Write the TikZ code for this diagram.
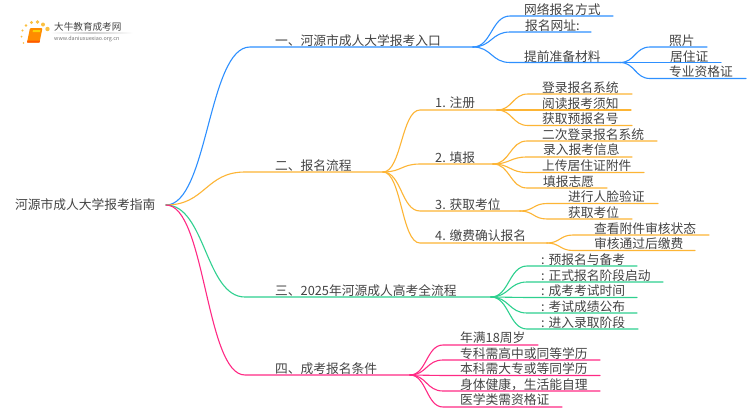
\documentclass[tikz,border=0pt]{standalone}
\usepackage{fontspec}
\setmainfont{Noto Sans CJK SC}
\usetikzlibrary{calc}
\definecolor{cblue}{HTML}{2E90FF}
\definecolor{corange}{HTML}{FDB535}
\definecolor{cgreen}{HTML}{2ED08F}
\definecolor{cpink}{HTML}{FF2A85}
\definecolor{ctext}{HTML}{444444}
\definecolor{cdot}{HTML}{FBC040}
\tikzset{
  lbl/.style={anchor=base west,inner sep=0pt,yshift=-4.7pt,text=ctext,font=\fontsize{12.75}{13}\selectfont},
  conn/.style={line width=1.1pt,line cap=round},
  dotc/.style={circle,fill=cdot,inner sep=0pt,draw=none,minimum size=#1}
}
% \itmb{from}{name}{xs}{xe}{y}{textx}{texty}{text}{colour}
\newcommand{\itmb}[9]{%
  \node[lbl] (t#2) at (#6,#7) {#8};
  \coordinate (s#2) at (#3,#5);
  \coordinate (#2) at (#4,#5);
  \path let \p1=(#1), \p2=(s#2), \n1={0.5*\x1+0.5*\x2} in
    coordinate (ca#2) at (\n1,\y1) coordinate (cb#2) at (\n1,\y2);
  \draw[conn,#9] (#1) .. controls (ca#2) and (cb#2) .. (s#2) -- (#2);
}
\begin{document}
\begin{tikzpicture}[x=1pt,y=-1pt]
\useasboundingbox (0,0) rectangle (750,410);
\fill[white] (0,0) rectangle (750,410);
% logo
\shade[left color=white,right color=white,middle color=black!20,draw=none] (50,32.6) rectangle (133,33.4);
\node[dotc=1.8pt] (d0) at (23.5,43) {};
\node[dotc=2pt] (d1) at (21.5,36.5) {};
\node[dotc=2.4pt] (d2) at (22.5,30.5) {};
\node[dotc=2.8pt] (d3) at (26,25.5) {};
\node[dotc=3.4pt] (d4) at (31.5,22.5) {};
\node[dotc=3.8pt] (d5) at (37.5,22) {};
\node[dotc=4pt] (d6) at (43,24.5) {};
\node[dotc=4.4pt] (d7) at (47.5,29) {};
\fill[orange!90!yellow,rounded corners=1pt] (30,28) -- (42.5,28) -- (39.5,42.5) -- (27,42.5) -- cycle;
\fill[orange!70!red] (27,42.5) -- (39.5,42.5) -- (40,40.5) -- (27.5,40.5) -- cycle;
\fill[yellow!70!orange] (33,30) -- (40.5,30) -- (40,32.2) -- (32.6,32.2) -- cycle;
\node[anchor=west,inner sep=0pt,text=ctext,font=\fontsize{9.6}{10}\selectfont] (lg1) at (54,27) {大牛教育成考网};
\node[anchor=west,inner sep=0pt,text=black!55,font=\fontsize{5.4}{6}\selectfont] (lg2) at (54,38.8) {www.daniuxuexiao.org.cn};
% root
\node[lbl] (root) at (15,205) {河源市成人大学报考指南};
\coordinate (r) at (166,205);
\itmb{r}{a}{250}{473}{47}{275}{41}{一、河源市成人大学报考入口}{cblue}
\itmb{r}{b}{245}{383}{172}{275}{166}{二、报名流程}{corange}
\itmb{r}{c}{245}{491}{297}{275}{291}{三、2025年河源成人高考全流程}{cgreen}
\itmb{r}{d}{245}{410}{375}{275}{369}{四、成考报名条件}{cpink}
% blue
\itmb{a}{a1}{510}{613}{16}{524}{10}{网络报名方式}{cblue}
\itmb{a}{a2}{510}{591}{32}{525}{26}{报名网址:}{cblue}
\itmb{a}{a3}{510}{620}{62.5}{524}{57}{提前准备材料}{cblue}
\itmb{a3}{a31}{650}{707}{47}{669}{41}{照片}{cblue}
\itmb{a3}{a32}{650}{721}{62.5}{670}{57}{居住证}{cblue}
\itmb{a3}{a33}{650}{746}{78.5}{669}{72}{专业资格证}{cblue}
% orange
\itmb{b}{b1}{420}{497}{110}{435}{103}{1. 注册}{corange}
\itmb{b}{b2}{420}{493}{164}{435}{158}{2. 填报}{corange}
\itmb{b}{b3}{420}{520}{211}{435}{205}{3. 获取考位}{corange}
\itmb{b}{b4}{420}{547}{243}{435}{236}{4. 缴费确认报名}{corange}
\itmb{b1}{b11}{528}{632}{94}{542}{88}{登录报名系统}{corange}
\itmb{b1}{b12}{528}{631}{110}{542}{104}{阅读报考须知}{corange}
\itmb{b1}{b13}{528}{632}{125.5}{542}{119}{获取预报名号}{corange}
\itmb{b2}{b21}{527}{657}{141}{542}{135}{二次登录报名系统}{corange}
\itmb{b2}{b22}{527}{632}{157}{543}{150}{录入报考信息}{corange}
\itmb{b2}{b23}{527}{644}{172.5}{542}{166}{上传居住证附件}{corange}
\itmb{b2}{b24}{527}{607}{188}{543}{182}{填报志愿}{corange}
\itmb{b3}{b31}{547}{658}{203.5}{568}{197}{进行人脸验证}{corange}
\itmb{b3}{b32}{547}{632}{219}{568}{213}{获取考位}{corange}
\itmb{b4}{b41}{573}{709}{235}{594}{229}{查看附件审核状态}{corange}
\itmb{b4}{b42}{573}{695}{250.5}{594}{244}{审核通过后缴费}{corange}
% green
\itmb{c}{c1}{527}{637}{266}{541}{260}{: 预报名与备考}{cgreen}
\itmb{c}{c2}{527}{663}{282}{541}{275.5}{: 正式报名阶段启动}{cgreen}
\itmb{c}{c3}{527}{637}{297.5}{541}{291}{: 成考考试时间}{cgreen}
\itmb{c}{c4}{527}{637}{313}{541}{307}{: 考试成绩公布}{cgreen}
\itmb{c}{c5}{527}{638}{329}{541}{322.5}{: 进入录取阶段}{cgreen}
% pink
\itmb{d}{d01}{443}{538}{345}{460}{338}{年满18周岁}{cpink}
\itmb{d}{d02}{443}{600}{360}{460}{354}{专科需高中或同等学历}{cpink}
\itmb{d}{d03}{443}{600}{375.5}{460}{369}{本科需大专或等同学历}{cpink}
\itmb{d}{d04}{443}{600}{391}{460}{385}{身体健康，生活能自理}{cpink}
\itmb{d}{d05}{443}{562}{407}{460}{400}{医学类需资格证}{cpink}
\end{tikzpicture}
\end{document}
